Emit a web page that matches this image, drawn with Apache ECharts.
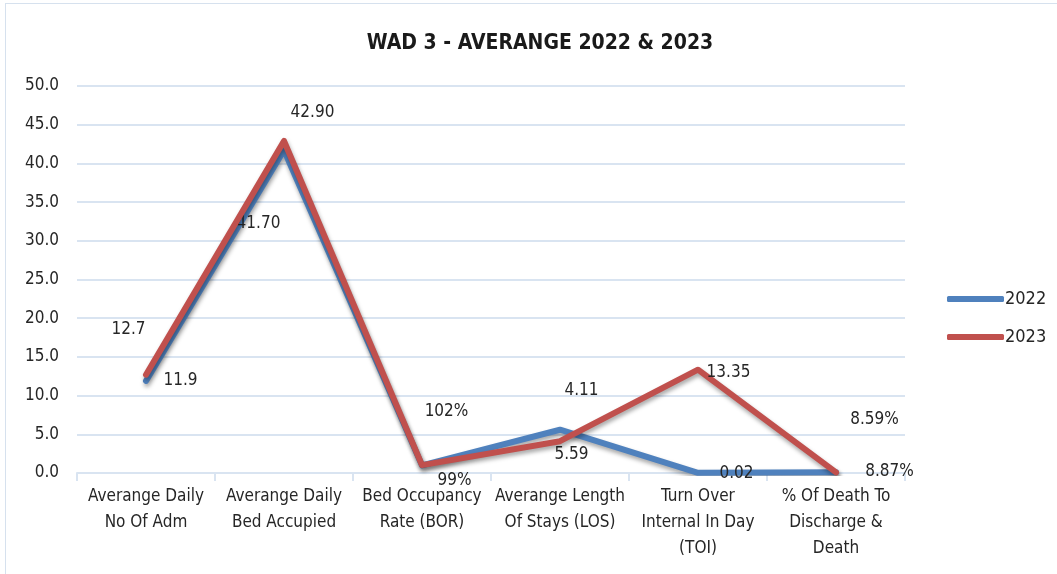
<!DOCTYPE html>
<html>
<head>
<meta charset="utf-8">
<script src="https://cdn.jsdelivr.net/npm/echarts@6/dist/echarts.min.js"></script>
<style>
  html, body { margin: 0; padding: 0; background: #fff; }
  #chart { width: 1057px; height: 574px; }
  #frame { position: absolute; left: 5px; top: 3px; width: 1060px; height: 580px; border: 1px solid #d6e1ee; pointer-events: none; }
</style>
</head>
<body>
<div id="chart"></div>
<div id="frame"></div>
<script>
var categories = [
    'Averange Daily\nNo Of Adm',
    'Averange Daily\nBed Accupied',
    'Bed Occupancy\nRate (BOR)',
    'Averange Length\nOf Stays (LOS)',
    'Turn Over\nInternal In Day\n(TOI)',
    '% Of Death To\nDischarge &\nDeath'
];
var values2022 = [11.9, 41.7, 0.99, 5.59, 0.02, 0.0887];
var values2023 = [12.7, 42.9, 1.02, 4.11, 13.35, 0.0859];
var labels2022 = ['11.9', '41.70', '99%', '5.59', '0.02', '8.87%'];
var labels2023 = ['12.7', '42.90', '102%', '4.11', '13.35', '8.59%'];
var yTicks = { min: 0, max: 50, interval: 5 };

// manual label nudges (like moved Excel data labels)
var offsets2022 = [[35, 0], [-25, 74], [33, 16], [12, 25], [39, 1], [54, 0]];
var offsets2023 = [[-17, -45], [29, -28], [25, -53], [22, -50], [31, 3], [39, -52]];

var BLUE = '#4f81bd';
var RED = '#c0504d';
var FONT = "'Liberation Sans Narrow', 'DejaVu Sans Condensed', 'Liberation Sans', sans-serif";

function buildData(values, texts, offs) {
    return values.map(function (v, i) {
        return {
            value: v,
            label: {
                position: [offs[i][0], offs[i][1]],
                formatter: texts[i]
            }
        };
    });
}

function lineSeries(name, color, values, texts, offs) {
    return {
        name: name,
        type: 'line',
        data: buildData(values, texts, offs),
        symbol: 'circle',
        symbolSize: 1,
        showSymbol: true,
        lineStyle: {
            color: color, width: 6, cap: 'round', join: 'round',
            shadowColor: 'rgba(0,0,0,0.35)', shadowBlur: 4, shadowOffsetY: 3, shadowOffsetX: 1
        },
        itemStyle: { color: color },
        label: {
            show: true, color: '#262626', align: 'center', verticalAlign: 'middle',
            fontSize: 17, fontFamily: FONT
        },
        labelLayout: { hideOverlap: false },
        z: name === '2023' ? 3 : 2
    };
}

var myChart = echarts.init(document.getElementById('chart'));
myChart.setOption({
    animation: false,
    title: {
        text: 'WAD 3 - AVERANGE 2022 & 2023',
        left: 535, top: 28, textAlign: 'center',
        textStyle: { fontFamily: FONT, fontSize: 21, fontWeight: 'bold', color: '#1a1a1a' }
    },
    legend: {
        orient: 'vertical', left: 942, top: 285, itemGap: 20,
        itemWidth: 57, itemHeight: 6,
        icon: 'roundRect',
        textStyle: { fontFamily: FONT, fontSize: 18, color: '#262626', padding: [0, 0, 0, -4] },
        data: ['2022', '2023']
    },
    grid: { left: 77, right: 152, top: 86, bottom: 101 },
    xAxis: {
        type: 'category',
        data: categories,
        boundaryGap: true,
        axisLine: { lineStyle: { color: '#d9e4f1', width: 2 } },
        axisTick: { show: true, length: 8, lineStyle: { color: '#d9e4f1', width: 2 } },
        axisLabel: {
            interval: 0, color: '#262626', fontFamily: FONT, fontSize: 17,
            lineHeight: 26, margin: 11
        }
    },
    yAxis: {
        type: 'value',
        min: yTicks.min, max: yTicks.max, interval: yTicks.interval,
        axisLine: { show: false },
        axisTick: { show: false },
        splitLine: { lineStyle: { color: '#d9e4f1', width: 2 } },
        axisLabel: {
            color: '#262626', fontFamily: FONT, fontSize: 17, margin: 18,
            formatter: function (v) { return v.toFixed(1); }
        }
    },
    series: [
        lineSeries('2022', BLUE, values2022, labels2022, offsets2022),
        lineSeries('2023', RED, values2023, labels2023, offsets2023)
    ]
});
</script>
</body>
</html>
